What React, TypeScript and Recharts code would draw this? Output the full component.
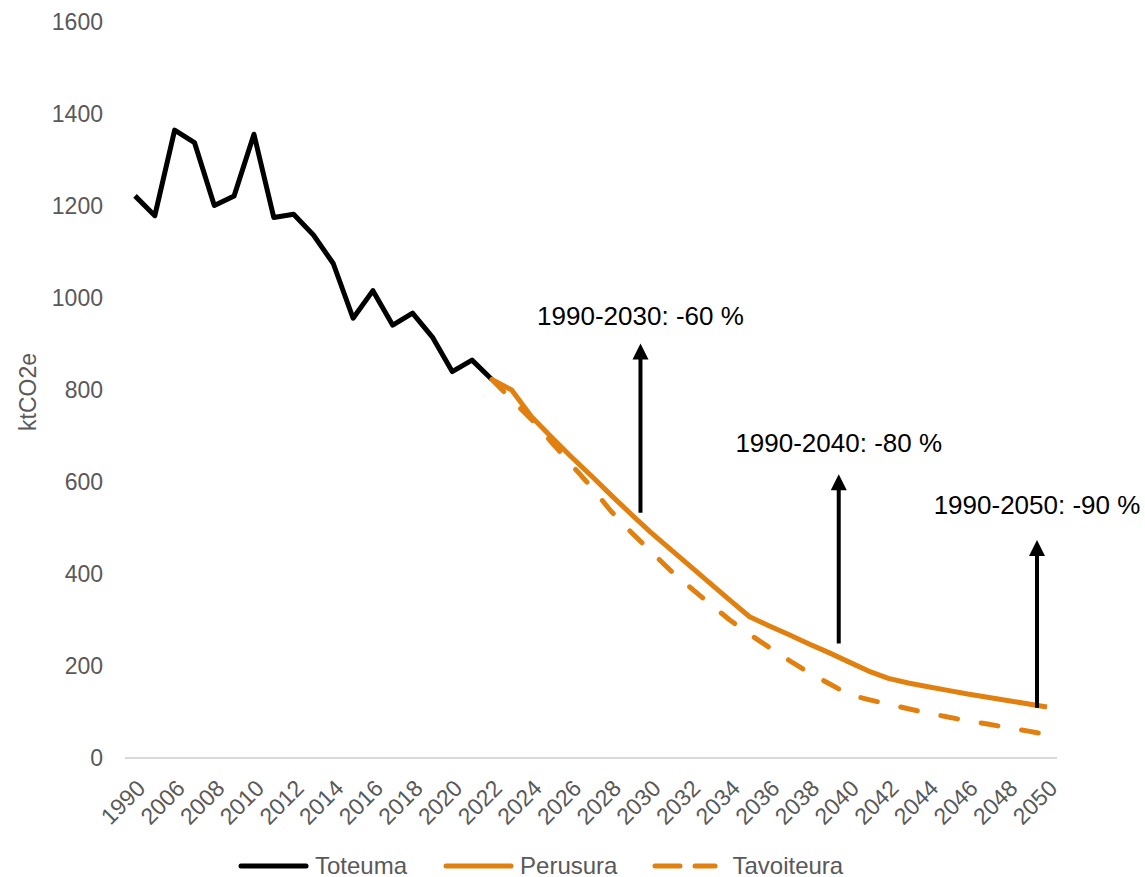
import React from 'react';
import { LineChart, Line, XAxis, YAxis, Legend, ReferenceLine, ReferenceDot } from 'recharts';

const FONT = '"Liberation Sans", Arial, sans-serif';
const BLACK = '#000000';
const ORANGE = '#E1800F';
const TICK_COLOR = '#595959';

const years = [
  '1990', '2005', '2006', '2007', '2008', '2009', '2010', '2011', '2012', '2013',
  '2014', '2015', '2016', '2017', '2018', '2019', '2020', '2021', '2022', '2023',
  '2024', '2025', '2026', '2027', '2028', '2029', '2030', '2031', '2032', '2033',
  '2034', '2035', '2036', '2037', '2038', '2039', '2040', '2041', '2042', '2043',
  '2044', '2045', '2046', '2047', '2048', '2049', '2050',
];

// 1990, 2005 ... 2022
const toteuma = [
  1222, 1179, 1365, 1338, 1201, 1222, 1356, 1175, 1182, 1137,
  1075, 956, 1016, 941, 967, 915, 840, 865, 823,
];

// 2022 ... 2050
const perusura = [
  823, 800, 742, 698, 655, 614, 572, 531, 491, 454,
  417, 380, 343, 307, 287, 268, 248, 229, 209, 189,
  173, 163, 155, 147, 139, 132, 125, 118, 111,
];

// 2022 ... 2050
const tavoiteura = [
  823, 779, 736, 687, 638, 590, 537, 492, 450, 408,
  371, 335, 300, 269, 240, 212, 185, 162, 138, 127,
  117, 107, 98, 89, 81, 74, 66, 59, 51,
];

const seriesNames = ['Toteuma', 'Perusura', 'Tavoiteura'];
const yTicks = [0, 200, 400, 600, 800, 1000, 1200, 1400, 1600];

const arrowYears = ['2030', '2040', '2050'];
const arrowFrom = [533, 249, 109];
const arrowTo = [901, 617, 474];
const arrowLabelValue = [961, 685, 550];
const arrowLabels = ['1990-2030: -60 %', '1990-2040: -80 %', '1990-2050: -90 %'];

const FORECAST_START = years.indexOf('2022');

const data = years.map((year, i) => ({
  year,
  toteuma: i < toteuma.length ? toteuma[i] : null,
  perusura: i >= FORECAST_START ? perusura[i - FORECAST_START] : null,
  tavoiteura: i >= FORECAST_START ? tavoiteura[i - FORECAST_START] : null,
}));

const ARROW_DX = -10;

const ArrowShape = (props: any) => {
  const { x1, y1, x2, y2 } = props;
  const head = 16;
  const half = 8;
  const ax = x2 + ARROW_DX;
  return (
    <g>
      <line x1={x1 + ARROW_DX} y1={y1} x2={ax} y2={y2 + head - 1} stroke={BLACK} strokeWidth={4} />
      <polygon points={`${ax},${y2} ${ax - half},${y2 + head} ${ax + half},${y2 + head}`} fill={BLACK} />
    </g>
  );
};

const makeLabelShape = (text: string) => (props: any) => (
  <text
    x={props.cx + ARROW_DX}
    y={props.cy}
    dy="0.35em"
    textAnchor="middle"
    fontSize={26}
    fontFamily={FONT}
    fill={BLACK}
  >
    {text}
  </text>
);

const XTick = (props: any) => {
  const { x, y, payload } = props;
  return (
    <g transform={`translate(${x + 6},${y + 26})`}>
      <text
        x={0}
        y={0}
        dy="0.35em"
        textAnchor="end"
        transform="rotate(-45)"
        fill={TICK_COLOR}
        fontSize={23}
        fontFamily={FONT}
      >
        {payload.value}
      </text>
    </g>
  );
};

const YLabel = (props: any) => {
  const vb = props.viewBox || { x: 0, y: 0, width: 0, height: 0 };
  const cx = vb.x + 28;
  const cy = vb.y + vb.height / 2 + 2;
  return (
    <text
      x={cx}
      y={cy}
      dy="0.35em"
      textAnchor="middle"
      transform={`rotate(-90, ${cx}, ${cy})`}
      fill={TICK_COLOR}
      fontSize={23}
      fontFamily={FONT}
    >
      ktCO2e
    </text>
  );
};

const LegendContent = () => {
  const colors = [BLACK, ORANGE, ORANGE];
  return (
    <div
      style={{
        width: 1145,
        height: 30,
        display: 'flex',
        alignItems: 'center',
        paddingLeft: 238,
        boxSizing: 'border-box',
        fontFamily: FONT,
        fontSize: 24,
        color: TICK_COLOR,
        lineHeight: '30px',
      }}
    >
      {seriesNames.map((name, i) => (
        <div key={name} style={{ display: 'flex', alignItems: 'center', marginLeft: i === 0 ? 0 : i === 1 ? 36 : 35 }}>
          {i < 2 ? (
            <svg width={71} height={30} style={{ display: 'block' }}>
              <line x1={3} y1={15} x2={68} y2={15} stroke={colors[i]} strokeWidth={5} strokeLinecap="round" />
            </svg>
          ) : (
            <svg width={66} height={30} style={{ display: 'block' }}>
              <line x1={3} y1={15} x2={28} y2={15} stroke={colors[i]} strokeWidth={5} strokeLinecap="round" />
              <line x1={43} y1={15} x2={63} y2={15} stroke={colors[i]} strokeWidth={5} strokeLinecap="round" />
            </svg>
          )}
          <span style={{ marginLeft: i < 2 ? 6 : 14, whiteSpace: 'nowrap' }}>{name}</span>
        </div>
      ))}
    </div>
  );
};

export default function App() {
  return (
    <div style={{ position: 'absolute', left: 0, top: 0, background: '#fff' }}>
      <LineChart width={1145} height={877} data={data} margin={{ top: 22, right: 88, left: 0, bottom: 0 }}>
        <XAxis
          dataKey="year"
          interval={1}
          padding={{ left: 10, right: 10 }}
          tick={<XTick />}
          tickLine={false}
          tickSize={0}
          tickMargin={0}
          axisLine={{ stroke: '#D9D9D9', strokeWidth: 2 }}
          height={89}
        />
        <YAxis
          domain={[0, 1600]}
          ticks={yTicks}
          width={125}
          axisLine={false}
          tickLine={false}
          tickSize={0}
          tickMargin={22}
          tick={{ fill: TICK_COLOR, fontSize: 23, fontFamily: FONT }}
          label={<YLabel />}
        />
        <Legend
          verticalAlign="bottom"
          content={<LegendContent />}
          wrapperStyle={{ left: 0, top: 851, width: 1145, height: 30 }}
        />
        <Line
          type="linear"
          dataKey="toteuma"
          name={seriesNames[0]}
          stroke={BLACK}
          strokeWidth={5}
          strokeLinejoin="round"
          dot={false}
          activeDot={false}
          isAnimationActive={false}
        />
        <Line
          type="linear"
          dataKey="perusura"
          name={seriesNames[1]}
          stroke={ORANGE}
          strokeWidth={5}
          strokeLinejoin="round"
          dot={false}
          activeDot={false}
          isAnimationActive={false}
        />
        <Line
          type="linear"
          dataKey="tavoiteura"
          name={seriesNames[2]}
          stroke={ORANGE}
          strokeWidth={5}
          strokeDasharray="17 24"
          strokeLinecap="round"
          strokeLinejoin="round"
          dot={false}
          activeDot={false}
          isAnimationActive={false}
        />
        {arrowYears.map((yr, i) => (
          <ReferenceLine
            key={`arrow-${yr}`}
            segment={[{ x: yr, y: arrowFrom[i] }, { x: yr, y: arrowTo[i] }]}
            shape={ArrowShape}
          />
        ))}
        {arrowYears.map((yr, i) => (
          <ReferenceDot
            key={`label-${yr}`}
            x={yr}
            y={arrowLabelValue[i]}
            r={0}
            shape={makeLabelShape(arrowLabels[i])}
          />
        ))}
      </LineChart>
    </div>
  );
}
